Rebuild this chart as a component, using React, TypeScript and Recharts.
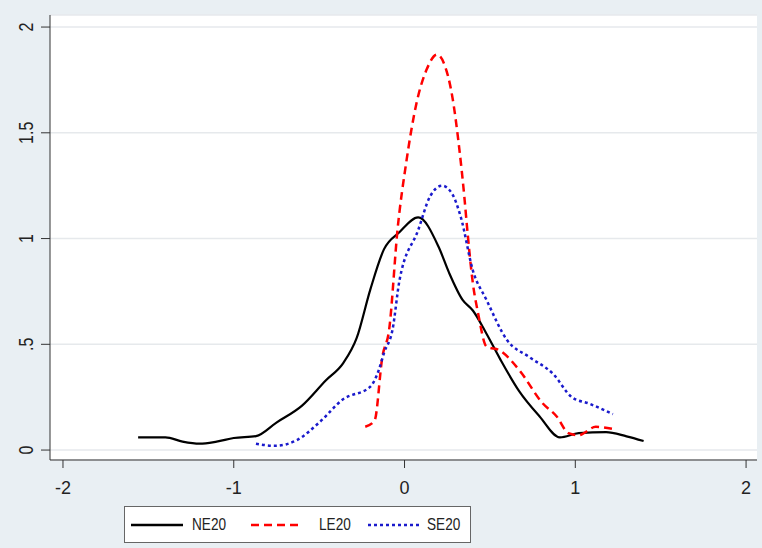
import React from 'react';
import { LineChart, Line, XAxis, YAxis, CartesianGrid, Legend } from 'recharts';

// NE20 kernel density (solid black)
const neX = [-1.56, -1.4, -1.3, -1.2, -1.1, -1.0, -0.87, -0.75, -0.6, -0.46, -0.36, -0.28, -0.2, -0.12, -0.03, 0.08, 0.2, 0.26, 0.34, 0.4, 0.48, 0.56, 0.67, 0.79, 0.91, 1.02, 1.18, 1.3, 1.4];
const neY = [0.06, 0.06, 0.04, 0.03, 0.04, 0.057, 0.066, 0.13, 0.21, 0.33, 0.41, 0.53, 0.76, 0.95, 1.03, 1.1, 0.96, 0.84, 0.71, 0.66, 0.55, 0.43, 0.28, 0.16, 0.06, 0.08, 0.085, 0.065, 0.043];

// LE20 (red dashed)
const leX = [-0.23, -0.175, -0.13, -0.09, -0.04, 0.01, 0.07, 0.13, 0.19, 0.23, 0.28, 0.32, 0.35, 0.37, 0.4, 0.43, 0.48, 0.56, 0.67, 0.81, 0.89, 0.96, 1.02, 1.12, 1.22];
const leY = [0.11, 0.14, 0.44, 0.57, 1.05, 1.36, 1.64, 1.8, 1.87, 1.83, 1.67, 1.43, 1.2, 1.02, 0.79, 0.65, 0.49, 0.47, 0.38, 0.22, 0.16, 0.08, 0.07, 0.11, 0.1];

// SE20 (blue dotted)
const seX = [-0.87, -0.76, -0.63, -0.5, -0.36, -0.2, -0.15, -0.12, -0.07, -0.03, 0.08, 0.15, 0.22, 0.28, 0.33, 0.4, 0.48, 0.6, 0.73, 0.87, 0.98, 1.08, 1.22];
const seY = [0.03, 0.02, 0.047, 0.13, 0.24, 0.3, 0.38, 0.46, 0.57, 0.8, 1.04, 1.2, 1.25, 1.21, 1.1, 0.85, 0.71, 0.52, 0.44, 0.36, 0.25, 0.22, 0.17];

const xTicks = [-2, -1, 0, 1, 2];
const yTicks = [0, 0.5, 1, 1.5, 2];
const yLabels = ['0', '.5', '1', '1.5', '2'];
const seriesNames = ['NE20', 'LE20', 'SE20'];

const zip = (xs: number[], ys: number[]) => xs.map((x, i) => ({ x, y: ys[i] }));
const ne = zip(neX, neY);
const le = zip(leX, leY);
const se = zip(seX, seY);

const font = '"Liberation Sans", Arial, sans-serif';

function YTick(props: any) {
  const { x, y, payload } = props;
  const i = yTicks.indexOf(payload.value);
  return (
    <text
      x={0}
      y={0}
      transform={`translate(${x - 6}, ${y}) rotate(-90) scale(0.8, 1)`}
      textAnchor="middle"
      fontSize={20}
      fontFamily={font}
      fill="#222"
    >
      {i >= 0 ? yLabels[i] : payload.value}
    </text>
  );
}

function XTick(props: any) {
  const { x, y, payload } = props;
  return (
    <text
      x={x}
      y={y + 24}
      textAnchor="middle"
      fontSize={18}
      fontFamily={font}
      fill="#222"
    >
      {String(payload.value)}
    </text>
  );
}

function LegendBox() {
  const sample = (left: number, color: string, dash?: string) => (
    <svg width={54} height={10} style={{ position: 'absolute', left, top: 13 }}>
      <line x1={1} y1={5} x2={53} y2={5} stroke={color} strokeWidth={2.5} strokeDasharray={dash} />
    </svg>
  );
  const label = (left: number, text: string) => (
    <span
      style={{
        position: 'absolute',
        left,
        top: 8,
        lineHeight: '20px',
        transform: 'scaleX(0.8)',
        transformOrigin: 'left center',
        whiteSpace: 'nowrap',
      }}
    >
      {text}
    </span>
  );
  return (
    <div
      style={{
        position: 'relative',
        width: 347,
        height: 37,
        boxSizing: 'border-box',
        border: '1px solid #666',
        background: '#fff',
        fontFamily: font,
        fontSize: 17,
        color: '#222',
      }}
    >
      {sample(5, '#000')}
      {label(67, seriesNames[0])}
      {sample(125, '#ff0000', '8 5')}
      {label(194, seriesNames[1])}
      {sample(242, '#1a1acc', '3 3')}
      {label(302, seriesNames[2])}
    </div>
  );
}

export default function App() {
  return (
    <div style={{ position: 'fixed', left: 0, top: 0, width: 762, height: 548, background: '#e9eff3' }}>
      <LineChart width={762} height={548} margin={{ top: 15, right: 5, bottom: 5, left: 8 }}>
        <CartesianGrid vertical={false} fill="#ffffff" stroke="#e6e9ec" strokeWidth={1.5} />
        <XAxis
          dataKey="x"
          type="number"
          domain={[-2.076, 2.064]}
          ticks={xTicks}
          height={46}
          tickSize={8}
          stroke="#333"
          tick={<XTick />}
        />
        <YAxis
          type="number"
          domain={[-0.047, 2.057]}
          ticks={yTicks}
          width={42}
          tickSize={9}
          stroke="#333"
          tick={<YTick />}
        />
        <Legend
          verticalAlign="bottom"
          align="left"
          wrapperStyle={{ left: 124, width: 347, height: 37 }}
          content={() => <LegendBox />}
        />
        <Line data={ne} dataKey="y" type="monotone" stroke="#000" strokeWidth={2.2} dot={false} isAnimationActive={false} name={seriesNames[0]} />
        <Line data={le} dataKey="y" type="monotone" stroke="#ff0000" strokeWidth={2.5} strokeDasharray="8 5" dot={false} isAnimationActive={false} name={seriesNames[1]} />
        <Line data={se} dataKey="y" type="monotone" stroke="#1a1acc" strokeWidth={2.5} strokeDasharray="3 3" dot={false} isAnimationActive={false} name={seriesNames[2]} />
      </LineChart>
    </div>
  );
}
